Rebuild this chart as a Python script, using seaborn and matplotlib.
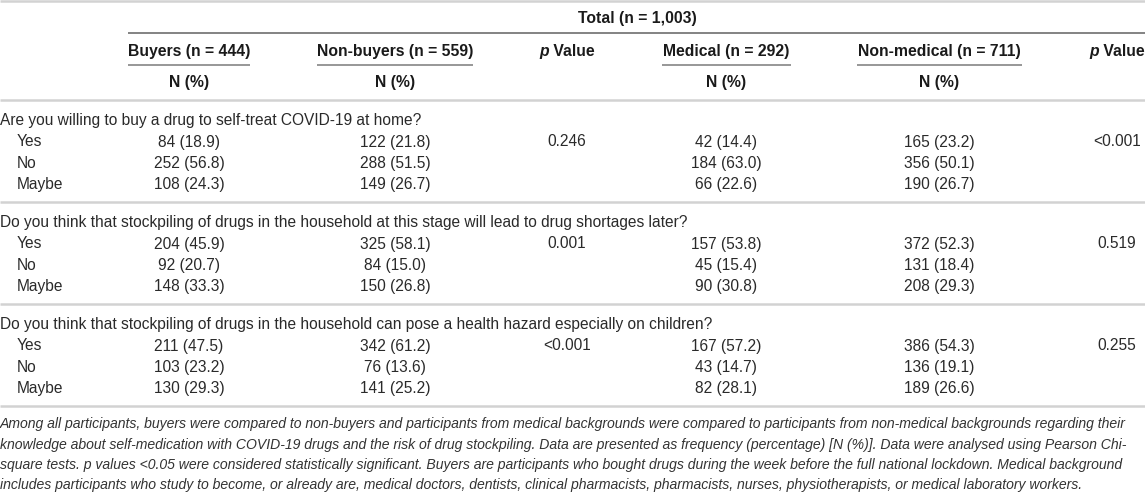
import matplotlib
matplotlib.use("Agg")
import matplotlib.pyplot as plt
import seaborn as sns

questions = [
    "Are you willing to buy a drug to self-treat COVID-19 at home?",
    "Do you think that stockpiling of drugs in the household at this stage will lead to drug shortages later?",
    "Do you think that stockpiling of drugs in the household can pose a health hazard especially on children?",
]
answers = ["Yes", "No", "Maybe"]

buyers_n = [[84, 252, 108], [204, 92, 148], [211, 103, 130]]
buyers_pct = [[18.9, 56.8, 24.3], [45.9, 20.7, 33.3], [47.5, 23.2, 29.3]]
nonbuyers_n = [[122, 288, 149], [325, 84, 150], [342, 76, 141]]
nonbuyers_pct = [[21.8, 51.5, 26.7], [58.1, 15.0, 26.8], [61.2, 13.6, 25.2]]
p_buyers = ["0.246", "0.001", "<0.001"]

medical_n = [[42, 184, 66], [157, 45, 90], [167, 43, 82]]
medical_pct = [[14.4, 63.0, 22.6], [53.8, 15.4, 30.8], [57.2, 14.7, 28.1]]
nonmedical_n = [[165, 356, 190], [372, 131, 208], [386, 136, 189]]
nonmedical_pct = [[23.2, 50.1, 26.7], [52.3, 18.4, 29.3], [54.3, 19.1, 26.6]]
p_medical = ["<0.001", "0.519", "0.255"]

group_headers = ["Buyers (n = 444)", "Non-buyers (n = 559)", "Medical (n = 292)", "Non-medical (n = 711)"]
total_header = "Total (n = 1,003)"

footnote = [
    "Among all participants, buyers were compared to non-buyers and participants from medical backgrounds were compared to participants from non-medical backgrounds regarding their",
    "knowledge about self-medication with COVID-19 drugs and the risk of drug stockpiling. Data are presented as frequency (percentage) [N (%)]. Data were analysed using Pearson Chi-",
    "square tests. p values <0.05 were considered statistically significant. Buyers are participants who bought drugs during the week before the full national lockdown. Medical background",
    "includes participants who study to become, or already are, medical doctors, dentists, clinical pharmacists, pharmacists, nurses, physiotherapists, or medical laboratory workers.",
]

sns.set_theme(style="white")
plt.rcParams["font.family"] = ["Liberation Sans", "DejaVu Sans"]

fig = plt.figure(figsize=(11.45, 4.96), dpi=100)
ax = fig.add_axes([0, 0, 1, 1])
ax.set_xlim(0, 1145)
ax.set_ylim(496, 0)
ax.axis("off")
rend = fig.canvas.get_renderer()


def text_width(s, size, **kw):
    t = ax.text(0, 0, s, fontsize=size, **kw)
    w = t.get_window_extent(rend).width
    t.remove()
    return w


def fit_size(s, width_px, **kw):
    # font size that makes string s about width_px wide
    return 10 * width_px / text_width(s, 10, **kw)


fs = fit_size(questions[1], 692)
fs_head = fit_size(group_headers[1], 156, fontweight="bold")
fs_note = fit_size(footnote[0], 1133, style="italic")

body_c = "#2a2a2a"
head_c = "#1a1a1a"
rule = "#d2d2d2"
dark_rule = "#7a7a7a"

# column centres
col_x = [189, 395, 567, 726, 939, 1117]
head_base = 56  # baseline of the group header row

# header block
ax.hlines(1, 0, 1145, color=rule, lw=1.8)
ax.text(637, 19, total_header, ha="center", va="center", fontsize=fs_head, fontweight="bold", color=head_c)
ax.hlines(33, 128, 1145, color=dark_rule, lw=1.3)
heads_x = [col_x[0], col_x[1], col_x[3], col_x[4]]
for x, h in zip(heads_x, group_headers):
    ax.text(x, head_base, h, ha="center", va="baseline", fontsize=fs_head, fontweight="bold", color=head_c)
    ax.text(x, 82, "N (%)", ha="center", va="center", fontsize=fs_head, fontweight="bold", color=head_c)

# "p Value" with an italic p
w_p = text_width("p", fs_head, fontweight="bold", style="italic")
w_v = text_width(" Value", fs_head, fontweight="bold")
for x in [col_x[2], col_x[5]]:
    x0 = x - (w_p + w_v) / 2
    ax.text(x0, head_base, "p", ha="left", va="baseline", fontsize=fs_head, fontweight="bold",
            style="italic", color=head_c)
    ax.text(x0 + w_p, head_base, " Value", ha="left", va="baseline", fontsize=fs_head,
            fontweight="bold", color=head_c)

for x0, x1 in [(128, 250), (317, 473), (662, 791), (857, 1022)]:
    ax.hlines(65, x0, x1, color=dark_rule, lw=1.1)
ax.hlines(100, 0, 1145, color=rule, lw=1.8)

# body
block = 102
for qi, q in enumerate(questions):
    top = 100 + qi * block
    ax.text(0, top + 20, q, ha="left", va="center", fontsize=fs, color=body_c)
    for ai, a in enumerate(answers):
        y = top + 42 + ai * 21.5
        ax.text(17, y, a, ha="left", va="center", fontsize=fs, color=body_c)
        cells = [
            f"{buyers_n[qi][ai]} ({buyers_pct[qi][ai]:.1f})",
            f"{nonbuyers_n[qi][ai]} ({nonbuyers_pct[qi][ai]:.1f})",
            f"{medical_n[qi][ai]} ({medical_pct[qi][ai]:.1f})",
            f"{nonmedical_n[qi][ai]} ({nonmedical_pct[qi][ai]:.1f})",
        ]
        for x, c in zip(heads_x, cells):
            ax.text(x, y, c, ha="center", va="center", fontsize=fs, color=body_c)
    ya = top + 42
    ax.text(col_x[2], ya, p_buyers[qi], ha="center", va="center", fontsize=fs, color=body_c)
    ax.text(col_x[5], ya, p_medical[qi], ha="center", va="center", fontsize=fs, color=body_c)
    ax.hlines(top + block, 0, 1145, color=rule, lw=1.8)

# footnote
for i, line in enumerate(footnote):
    ax.text(0, 424 + i * 20.5, line, ha="left", va="center", fontsize=fs_note, style="italic", color="#333333")

fig.savefig("out.png", dpi=100)
